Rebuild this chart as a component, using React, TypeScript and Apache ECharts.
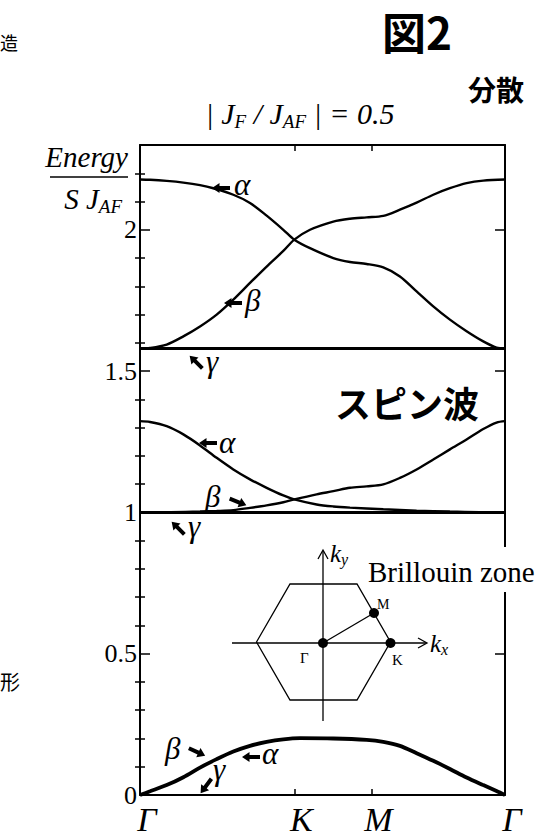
import { useEffect, useRef } from "react";
import * as echarts from "echarts";

// Path through the Brillouin zone, in units of |ΓK|: Γ → K → M → Γ
const pathLabels = ["Γ", "K", "M", "Γ"];
const pathPositions = [0, 1, 1.5, 2.366];
const pathTickPositions = [1, 1.5];

// Energy axis (units of S·J_AF)
const energyLabels = [0, 0.5, 1, 1.5, 2];
const energyMinorTicks = [
  0.1, 0.2, 0.3, 0.4, 0.6, 0.7, 0.8, 0.9, 1.1, 1.2, 1.3, 1.4, 1.6, 1.7, 1.8,
  1.9, 2.1, 2.2,
];

// Upper branch group
const alphaUpper = [
  [0, 2.178], [0.065, 2.177], [0.173, 2.173], [0.281, 2.167], [0.389, 2.158],
  [0.475, 2.147], [0.605, 2.124], [0.713, 2.095], [0.821, 2.05], [0.929, 2.0],
  [1.0, 1.965], [1.102, 1.935], [1.253, 1.9], [1.361, 1.886], [1.469, 1.879],
  [1.577, 1.867], [1.685, 1.835], [1.793, 1.782], [1.901, 1.729], [2.009, 1.682],
  [2.117, 1.641], [2.225, 1.605], [2.311, 1.583], [2.366, 1.58],
];
const betaUpper = [
  [0, 1.58], [0.065, 1.582], [0.173, 1.594], [0.281, 1.623], [0.389, 1.658],
  [0.497, 1.7], [0.605, 1.753], [0.713, 1.812], [0.821, 1.87], [0.929, 1.925],
  [1.0, 1.965], [1.102, 2.0], [1.253, 2.029], [1.361, 2.039], [1.469, 2.044],
  [1.577, 2.049], [1.685, 2.071], [1.793, 2.096], [1.901, 2.124], [2.009, 2.147],
  [2.117, 2.165], [2.225, 2.174], [2.366, 2.178],
];
const gammaUpper = [
  [0, 1.58], [2.366, 1.58],
];

// Middle branch group
const alphaMiddle = [
  [0, 1.323], [0.065, 1.32], [0.173, 1.305], [0.281, 1.276], [0.389, 1.237],
  [0.497, 1.193], [0.605, 1.152], [0.713, 1.117], [0.821, 1.087], [0.929, 1.06],
  [1.0, 1.046], [1.145, 1.028], [1.253, 1.021], [1.361, 1.017], [1.577, 1.011],
  [1.793, 1.006], [2.009, 1.003], [2.2, 1.001], [2.366, 1.0],
];
const betaMiddle = [
  [0, 1.0], [0.2, 1.001], [0.389, 1.003], [0.497, 1.005], [0.605, 1.008],
  [0.713, 1.016], [0.821, 1.025], [0.929, 1.036], [1.0, 1.046], [1.145, 1.064],
  [1.253, 1.075], [1.361, 1.087], [1.469, 1.092], [1.577, 1.099], [1.685, 1.122],
  [1.793, 1.152], [1.901, 1.187], [2.009, 1.223], [2.117, 1.258], [2.225, 1.295],
  [2.311, 1.318], [2.366, 1.323],
];
const gammaMiddle = [
  [0, 1.0], [2.366, 1.0],
];

// Acoustic branches (α, β, γ degenerate)
const acoustic = [
  [0, 0], [0.065, 0.013], [0.173, 0.035], [0.281, 0.063], [0.389, 0.097],
  [0.497, 0.127], [0.605, 0.154], [0.713, 0.174], [0.821, 0.188], [0.929, 0.197],
  [1.037, 0.201], [1.253, 0.2], [1.469, 0.195], [1.577, 0.188], [1.685, 0.174],
  [1.793, 0.148], [1.901, 0.121], [2.009, 0.092], [2.117, 0.062], [2.225, 0.035],
  [2.311, 0.014], [2.366, 0],
];

echarts.graphic.registerShape(
  "bandArrow",
  echarts.graphic.extendPath("M0 5 L7.5 0 L7.5 3 L18 3 L18 7 L7.5 7 L7.5 10 Z", {})
);

const SERIF = "'Liberation Serif', 'DejaVu Serif', serif";
const CJK = "'Noto Sans CJK JP', 'Noto Sans', sans-serif";

const arrow = (cx: number, cy: number, deg: number) => ({
  type: "bandArrow",
  x: cx - 9,
  y: cy - 5,
  originX: 9,
  originY: 5,
  rotation: (deg * Math.PI) / 180,
  z: 100,
  style: { fill: "#000" },
});

const greek = (x: number, y: number, text: string, size = 31) => ({
  type: "text",
  x,
  y,
  z: 100,
  style: {
    text,
    fontFamily: SERIF,
    fontStyle: "italic",
    fontSize: size,
    fill: "#000",
    align: "left",
    verticalAlign: "middle",
  },
});

const plain = (
  x: number,
  y: number,
  text: string,
  size: number,
  extra: Record<string, unknown> = {}
) => ({
  type: "text",
  x,
  y,
  z: 100,
  style: {
    text,
    fontFamily: SERIF,
    fontSize: size,
    fill: "#000",
    align: "left",
    verticalAlign: "top",
    ...extra,
  },
});

const subRich = (main: number, sub: number, lh: number) => ({
  t: {
    fontFamily: SERIF,
    fontStyle: "italic",
    fontSize: main,
    lineHeight: lh,
    verticalAlign: "middle",
    fill: "#000",
  },
  s: {
    fontFamily: SERIF,
    fontStyle: "italic",
    fontSize: sub,
    lineHeight: sub,
    verticalAlign: "bottom",
    fill: "#000",
  },
});

const lineSeries = (name: string, data: number[][], width = 2.4) => ({
  name,
  type: "line",
  data,
  smooth: 0.3,
  symbol: "none",
  lineStyle: { color: "#000", width },
  xAxisIndex: 0,
  yAxisIndex: 0,
  z: 5,
});

export default function App() {
  const ref = useRef<HTMLDivElement>(null);

  useEffect(() => {
    if (!ref.current) return;
    const chart = echarts.init(ref.current, null, { renderer: "svg" });

    const axisLine = { show: true, onZero: false, lineStyle: { color: "#000", width: 2 } };
    const pathLabel = (v: number) => {
      let best = 0;
      pathPositions.forEach((p, i) => {
        if (Math.abs(p - v) < Math.abs(pathPositions[best] - v)) best = i;
      });
      return pathLabels[best];
    };

    const hexagon = [
      [256.5, 642], [290, 584], [357, 584], [390.5, 642], [357, 700], [290, 700],
    ];

    const minorTick = (position: string) => ({
      type: "value",
      min: 0,
      max: 2.3,
      position,
      axisLine: { show: false },
      axisTick: {
        show: true,
        inside: true,
        length: 5,
        customValues: energyMinorTicks,
        lineStyle: { color: "#000", width: 1.5 },
      },
      axisLabel: { show: false },
      splitLine: { show: false },
    });

    chart.setOption({
      animation: false,
      backgroundColor: "#fff",
      grid: { left: 140, right: 48, top: 145, bottom: 40, containLabel: false },
      xAxis: [
        {
          type: "value",
          min: 0,
          max: 2.366,
          position: "bottom",
          axisLine,
          axisTick: {
            show: true,
            inside: true,
            length: 6,
            customValues: pathTickPositions,
            lineStyle: { color: "#000", width: 1.5 },
          },
          axisLabel: {
            show: true,
            customValues: pathPositions,
            formatter: pathLabel,
            fontFamily: SERIF,
            fontStyle: "italic",
            fontSize: 34,
            lineHeight: 26,
            padding: [0, 0, 0, 14],
            color: "#000",
            margin: 11,
          },
          splitLine: { show: false },
        },
        {
          type: "value",
          min: 0,
          max: 2.366,
          position: "top",
          axisLine,
          axisTick: {
            show: true,
            inside: true,
            length: 6,
            customValues: pathTickPositions,
            lineStyle: { color: "#000", width: 1.5 },
          },
          axisLabel: { show: false },
          splitLine: { show: false },
        },
      ],
      yAxis: [
        {
          type: "value",
          min: 0,
          max: 2.3,
          position: "left",
          axisLine,
          axisTick: {
            show: true,
            inside: true,
            length: 10,
            customValues: energyLabels,
            lineStyle: { color: "#000", width: 1.5 },
          },
          axisLabel: {
            show: true,
            customValues: energyLabels,
            formatter: (v: number) => String(v),
            fontFamily: SERIF,
            fontSize: 26,
            lineHeight: 20,
            color: "#000",
            margin: 3,
          },
          splitLine: { show: false },
        },
        minorTick("left"),
        {
          type: "value",
          min: 0,
          max: 2.3,
          position: "right",
          axisLine,
          axisTick: {
            show: true,
            inside: true,
            length: 10,
            customValues: energyLabels,
            lineStyle: { color: "#000", width: 1.5 },
          },
          axisLabel: { show: false },
          splitLine: { show: false },
        },
        minorTick("right"),
      ],
      series: [
        lineSeries("α", alphaUpper),
        lineSeries("β", betaUpper),
        lineSeries("γ", gammaUpper, 3),
        lineSeries("α", alphaMiddle),
        lineSeries("β", betaMiddle),
        lineSeries("γ", gammaMiddle, 3),
        lineSeries("α, β, γ", acoustic, 3.8),
      ],
      graphic: [
        // surrounding page text
        plain(0, 33, "造", 18, { fontFamily: CJK }),
        plain(0, 671, "形", 20, { fontFamily: CJK }),
        plain(382, 9, "図2", 44, { fontFamily: CJK, fontWeight: "bold" }),
        plain(468, 75, "分散", 28, { fontFamily: CJK, fontWeight: "bold" }),
        // title
        {
          type: "text",
          x: 300,
          y: 113,
          z: 100,
          style: {
            text: "{t|| J}{s|F}{t| / J}{s|AF}{t| | = 0.5}",
            rich: subRich(30, 19, 36),
            align: "center",
            verticalAlign: "middle",
          },
        },
        // y-axis caption: Energy / S J_AF
        plain(128, 142, "Energy", 29, { fontStyle: "italic", align: "right" }),
        {
          type: "line",
          z: 100,
          shape: { x1: 50, y1: 177, x2: 128, y2: 177 },
          style: { stroke: "#000", lineWidth: 1.6 },
        },
        {
          type: "text",
          x: 122,
          y: 199,
          z: 100,
          style: {
            text: "{t|S J}{s|AF}",
            rich: subRich(29, 19, 34),
            align: "right",
            verticalAlign: "middle",
          },
        },
        // band labels, upper group
        arrow(221, 188, 0),
        greek(234, 184, "α"),
        arrow(233, 303, 0),
        greek(245, 300, "β"),
        arrow(196, 362, -45),
        greek(206, 361, "γ"),
        // band labels, middle group
        arrow(208, 443, 0),
        greek(219, 442, "α"),
        greek(205, 496, "β"),
        arrow(238, 502, 158),
        arrow(178, 528, -45),
        greek(188, 526, "γ"),
        // band labels, acoustic group
        greek(165, 748, "β"),
        arrow(197, 752, 155),
        arrow(251, 757, 0),
        greek(262, 753, "α"),
        arrow(206, 786, 53),
        greek(213, 769, "γ"),
        // spin-wave caption
        plain(335, 384, "スピン波", 36, { fontFamily: CJK, fontWeight: "bold" }),
        // Brillouin zone inset
        {
          type: "polygon",
          z: 90,
          shape: { points: hexagon },
          style: { fill: "none", stroke: "#000", lineWidth: 1.3 },
        },
        {
          type: "line",
          z: 90,
          shape: { x1: 323, y1: 721, x2: 323, y2: 551 },
          style: { stroke: "#000", lineWidth: 1.3 },
        },
        {
          type: "polyline",
          z: 90,
          shape: { points: [[318, 559], [323, 550], [328, 559]] },
          style: { fill: "none", stroke: "#000", lineWidth: 1.3 },
        },
        {
          type: "line",
          z: 90,
          shape: { x1: 232, y1: 643, x2: 426, y2: 643 },
          style: { stroke: "#000", lineWidth: 1.3 },
        },
        {
          type: "polyline",
          z: 90,
          shape: { points: [[418, 638], [427, 643], [418, 648]] },
          style: { fill: "none", stroke: "#000", lineWidth: 1.3 },
        },
        {
          type: "line",
          z: 90,
          shape: { x1: 323, y1: 643, x2: 374, y2: 613 },
          style: { stroke: "#000", lineWidth: 1.3 },
        },
        { type: "circle", z: 95, shape: { cx: 323, cy: 643, r: 5 }, style: { fill: "#000" } },
        { type: "circle", z: 95, shape: { cx: 374, cy: 613, r: 5 }, style: { fill: "#000" } },
        { type: "circle", z: 95, shape: { cx: 390.5, cy: 643, r: 5 }, style: { fill: "#000" } },
        plain(377, 597, "M", 14),
        plain(300, 650, "Γ", 15),
        plain(392, 652, "K", 15),
        {
          type: "text",
          x: 430,
          y: 643,
          z: 100,
          style: {
            text: "{t|k}{s|x}",
            rich: subRich(25, 16, 28),
            align: "left",
            verticalAlign: "middle",
          },
        },
        {
          type: "text",
          x: 330,
          y: 553,
          z: 100,
          style: {
            text: "{t|k}{s|y}",
            rich: subRich(25, 16, 28),
            align: "left",
            verticalAlign: "middle",
          },
        },
        plain(366, 547, "Brillouin zone", 29, {
          backgroundColor: "#fff",
          padding: [10, 2, 6, 2],
        }),
      ],
    });

    return () => chart.dispose();
  }, []);

  return (
    <div
      ref={ref}
      style={{ position: "fixed", left: 0, top: 0, width: 553, height: 836, background: "#fff" }}
    />
  );
}
